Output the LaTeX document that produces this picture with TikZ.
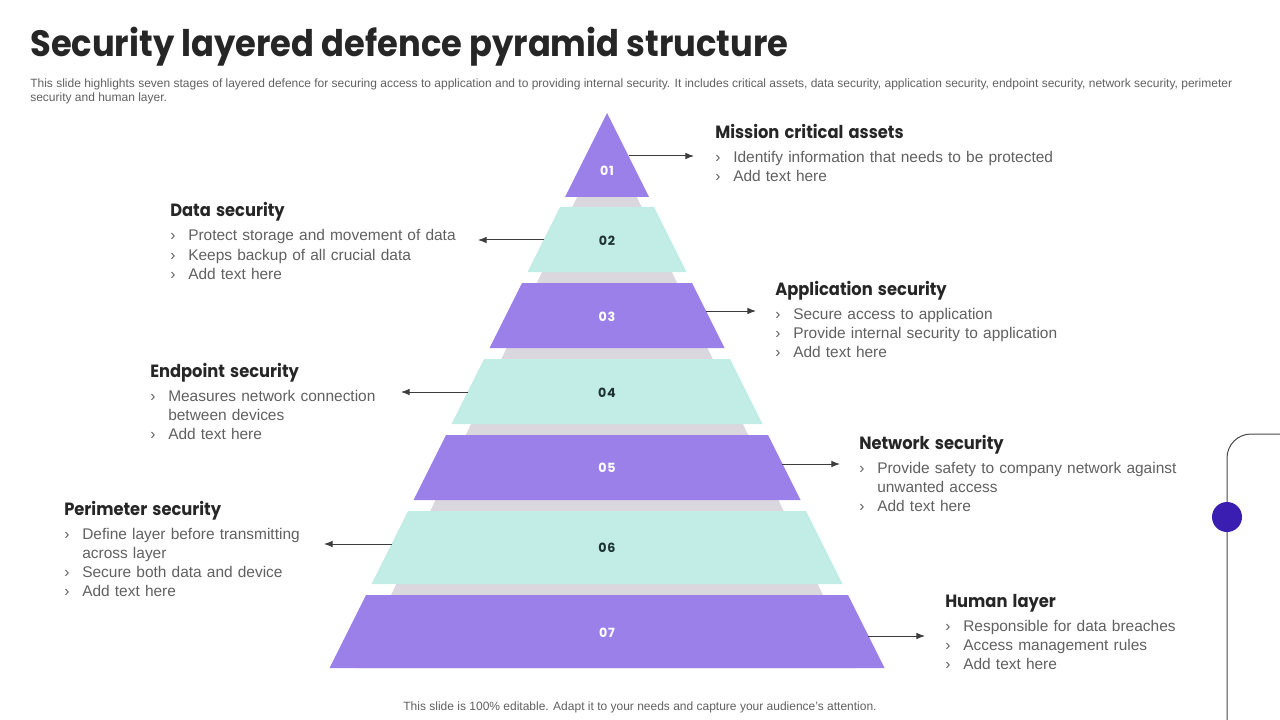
\documentclass[tikz,border=0pt]{standalone}
\usepackage{fontspec}
\setmainfont{Liberation Sans}
\newfontfamily\headfont{Poppins}[FakeStretch=0.92]
\newfontfamily\numfont{Poppins}[LetterSpace=6]
\usepackage{xcolor}
\usepackage{tikz}
\usetikzlibrary{arrows.meta, positioning}

\definecolor{purp}{RGB}{155,128,234}
\definecolor{mint}{RGB}{194,236,230}
\definecolor{band}{RGB}{218,215,222}
\definecolor{ink}{RGB}{38,38,38}
\definecolor{body}{RGB}{96,96,96}
\definecolor{numdark}{RGB}{30,52,52}
\definecolor{dotc}{RGB}{58,30,178}

\newcommand{\itm}{\makebox[13.5pt][l]{›}}
\newcommand{\cnt}{\hspace*{13.5pt}}
\newcommand{\hd}[1]{{\headfont\bfseries\fontsize{13.3}{15}\selectfont\color{ink}#1}}

\begin{document}
\begin{tikzpicture}[
  x=0.75pt, y=-0.75pt,
  >={Latex[length=6.5pt,width=5pt]},
  lyrA/.style={fill=purp},
  lyrB/.style={fill=mint},
  num/.style={font=\numfont\bfseries\fontsize{9.5}{11}\selectfont},
  blk/.style={anchor=base west, align=left, inner sep=0pt, text width=330pt,
    text=body, font=\fontsize{11.6}{14.25}\selectfont},
  arr/.style={->, draw=ink!90, line width=0.75pt},
]
\useasboundingbox (0,0) rectangle (1280,720);

% title and notes
\node (title) [anchor=base west, inner sep=0pt, text=ink,
  font=\headfont\bfseries\fontsize{27.5}{32}\selectfont] at (30,57)
  {Security layered defence pyramid structure};
\node (sub) [anchor=base west, align=left, inner sep=0pt, text=body,
  font=\fontsize{9}{10.5}\selectfont] at (30,102)
  {This slide highlights seven stages of layered defence for securing access to application and to providing internal security. It includes critical assets, data security, application security, endpoint security, network security, perimeter\\
   security and human layer.};
\node (foot) [anchor=base, inner sep=0pt, text=body,
  font=\fontsize{9}{10}\selectfont] at (640,710)
  {This slide is 100\% editable. Adapt it to your needs and capture your audience’s attention.};

% grey core behind the layers
\fill[band] (607,133) -- (857,668) -- (357,668) -- cycle;

% layers
\fill[lyrA] (607,113) -- (649,197) -- (565,197) -- cycle;
\fill[lyrB] (560,207) -- (654,207) -- (686.5,272) -- (527.5,272) -- cycle;
\fill[lyrA] (522,283) -- (692,283) -- (724.5,348) -- (489.5,348) -- cycle;
\fill[lyrB] (484,359) -- (730,359) -- (762.5,424) -- (451.5,424) -- cycle;
\fill[lyrA] (446,435) -- (768,435) -- (800.5,500) -- (413.5,500) -- cycle;
\fill[lyrB] (408,511) -- (806,511) -- (842.5,584) -- (371.5,584) -- cycle;
\fill[lyrA] (366,595) -- (848,595) -- (884.5,668) -- (329.5,668) -- cycle;

\node (n1) [num, text=white] at (607,171) {01};
\node (n2) [num, text=numdark] at (607,241) {02};
\node (n3) [num, text=white] at (607,317) {03};
\node (n4) [num, text=numdark] at (607,393) {04};
\node (n5) [num, text=white] at (607,468) {05};
\node (n6) [num, text=numdark] at (607,548) {06};
\node (n7) [num, text=white] at (607,633) {07};

% text blocks
\node (t1) [blk] at (715,139) {\hd{Mission critical assets}\\[3.75pt]
  \itm Identify information that needs to be protected\\
  \itm Add text here};
\node (t2) [blk] at (170,217) {\hd{Data security}\\[3.75pt]
  \itm Protect storage and movement of data\\
  \itm Keeps backup of all crucial data\\
  \itm Add text here};
\node (t3) [blk] at (775,295) {\hd{Application security}\\[3.75pt]
  \itm Secure access to application\\
  \itm Provide internal security to application\\
  \itm Add text here};
\node (t4) [blk] at (150,377) {\hd{Endpoint security}\\[3.75pt]
  \itm Measures network connection\\
  \cnt between devices\\
  \itm Add text here};
\node (t5) [blk] at (859,449) {\hd{Network security}\\[3.75pt]
  \itm Provide safety to company network against\\
  \cnt unwanted access\\
  \itm Add text here};
\node (t6) [blk] at (64,515) {\hd{Perimeter security}\\[3.75pt]
  \itm Define layer before transmitting\\
  \cnt across layer\\
  \itm Secure both data and device\\
  \itm Add text here};
\node (t7) [blk] at (945,607) {\hd{Human layer}\\[3.75pt]
  \itm Responsible for data breaches\\
  \itm Access management rules\\
  \itm Add text here};

% arrows from the layers
\coordinate (e1) at (629,156);   \coordinate (f1) at (694,156);
\coordinate (e2) at (544,240);   \coordinate (f2) at (478,240);
\coordinate (e3) at (706,311);   \coordinate (f3) at (756,311);
\coordinate (e4) at (468,392);   \coordinate (f4) at (401,392);
\coordinate (e5) at (782,464);   \coordinate (f5) at (840,464);
\coordinate (e6) at (392,544);   \coordinate (f6) at (324,544);
\coordinate (e7) at (868,636);   \coordinate (f7) at (925,636);
\draw[arr] (e1) -- (f1);
\draw[arr] (e2) -- (f2);
\draw[arr] (e3) -- (f3);
\draw[arr] (e4) -- (f4);
\draw[arr] (e5) -- (f5);
\draw[arr] (e6) -- (f6);
\draw[arr] (e7) -- (f7);

% side decoration
\draw[ink!85, line width=0.75pt, rounded corners=18pt] (1227,720) -- (1227,434) -- (1280,434);
\fill[dotc] (1227,517) circle[radius=15];
\end{tikzpicture}
\end{document}
